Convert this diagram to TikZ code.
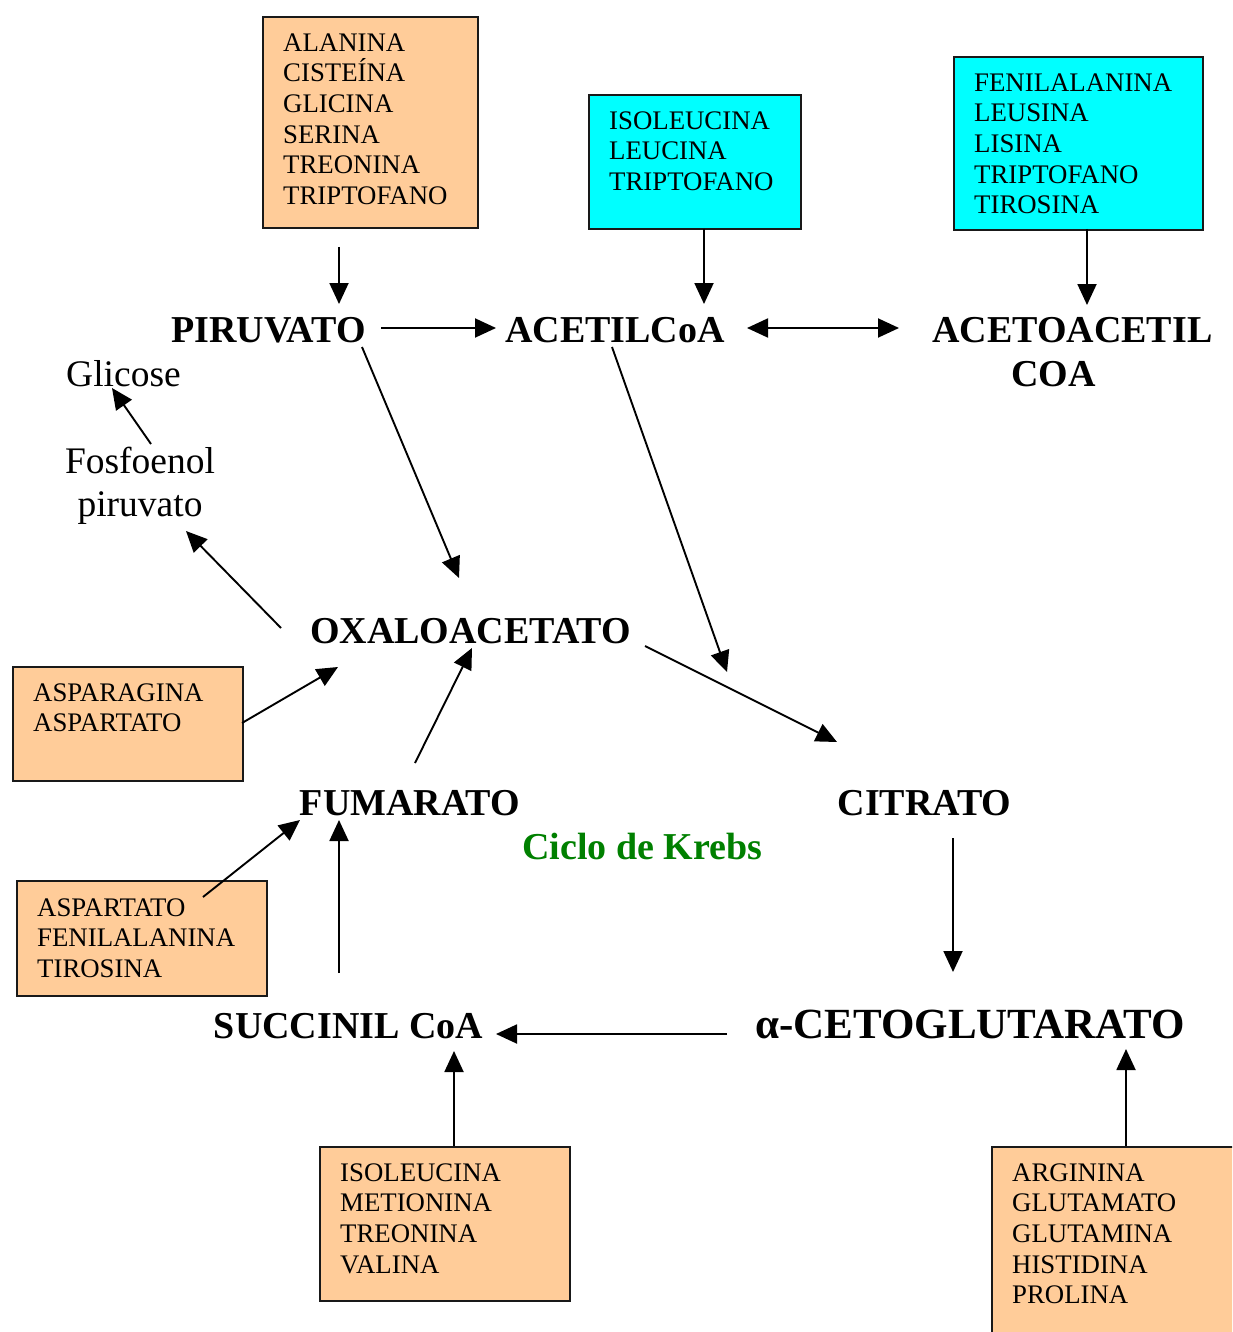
\documentclass[tikz,border=0pt]{standalone}
\usepackage{fontspec}
\setmainfont{Liberation Serif}
\usetikzlibrary{arrows.meta}
\definecolor{boxorange}{HTML}{FFCC99}
\definecolor{boxcyan}{HTML}{00FFFF}
\definecolor{krebsgreen}{HTML}{008000}
\begin{document}
\begin{tikzpicture}[x=1pt,y=-1pt,
  obox/.style={draw=black!90, line width=1.8pt, fill=boxorange, anchor=north west, inner sep=0pt},
  cbox/.style={obox, fill=boxcyan},
  btext/.style={anchor=north west, inner sep=0pt, align=left, font=\fontsize{26.8}{30.7}\selectfont},
  lbl/.style={anchor=base, inner sep=0pt, font=\fontsize{38}{44}\selectfont\bfseries},
  plainlbl/.style={inner sep=0pt, font=\fontsize{37.5}{43}\selectfont},
  arr/.style={line width=1.9pt, -{Triangle[length=21pt,width=19pt]}},
  dblarr/.style={line width=1.9pt, {Triangle[length=21pt,width=19pt]}-{Triangle[length=21pt,width=19pt]}},
]
\useasboundingbox (0,0) rectangle (1232,1332);
\clip (0,0) rectangle (1232,1332);

% boxes
\node[obox, minimum width=215pt, minimum height=211pt] (b1) at (262,16) {};
\node[cbox, minimum width=212pt, minimum height=134pt] (b2) at (588,94) {};
\node[cbox, minimum width=249pt, minimum height=173pt] (b3) at (953,56) {};
\node[obox, minimum width=230pt, minimum height=114pt] (b4) at (12,666) {};
\node[obox, minimum width=250pt, minimum height=115pt] (b5) at (16,880) {};
\node[obox, minimum width=250pt, minimum height=154pt] (b6) at (319,1146) {};
\node[obox, minimum width=260pt, minimum height=220pt] (b7) at (991,1146) {};

% box texts
\node[btext] (t1) at (283,33.2) {ALANINA\\CISTEÍNA\\GLICINA\\SERINA\\TREONINA\\TRIPTOFANO};
\node[btext] (t2) at (609,111.2) {ISOLEUCINA\\LEUCINA\\TRIPTOFANO};
\node[btext] (t3) at (974,73.2) {FENILALANINA\\LEUSINA\\LISINA\\TRIPTOFANO\\TIROSINA};
\node[btext] (t4) at (33,683.2) {ASPARAGINA\\ASPARTATO};
\node[btext] (t5) at (37,898.2) {ASPARTATO\\FENILALANINA\\TIROSINA};
\node[btext] (t6) at (340,1163.2) {ISOLEUCINA\\METIONINA\\TREONINA\\VALINA};
\node[btext] (t7) at (1012,1163.2) {ARGININA\\GLUTAMATO\\GLUTAMINA\\HISTIDINA\\PROLINA};

% labels
\node[lbl] (pir) at (268.5,342.5) {PIRUVATO};
\node[lbl] (acet) at (615,342.5) {ACETILCoA};
\node[anchor=north west, inner sep=0pt, align=left, font=\fontsize{38}{44}\selectfont\bfseries] (acac) at (932,317.5) {ACETOACETIL\\\hspace*{79pt}COA};
\node[plainlbl, anchor=base west] (gli) at (66,386) {Glicose};
\node[plainlbl, anchor=north, align=center] (pep) at (140,446.5) {Fosfoenol\\piruvato};
\node[lbl] (oxa) at (470.5,643.5) {OXALOACETATO};
\node[lbl] (fum) at (410,815.5) {FUMARATO};
\node[lbl] (cit) at (924.5,815.5) {CITRATO};
\node[lbl, text=krebsgreen] (krebs) at (642.5,859.5) {Ciclo de Krebs};
\node[lbl] (suc) at (348.5,1038.5) {SUCCINIL CoA};
\node[lbl, font=\fontsize{43}{48}\selectfont\bfseries] (akg) at (970,1038) {α-CETOGLUTARATO};

% connector end points
\coordinate (b1out) at (339,247);   \coordinate (pirin) at (339,304);
\coordinate (b2out) at (704,229);   \coordinate (acetin) at (704,304);
\coordinate (b3out) at (1087,229);  \coordinate (acacin) at (1087,305);
\coordinate (pirR) at (381,328);    \coordinate (acetL) at (496,328);
\coordinate (acetR) at (747,328);   \coordinate (acacL) at (899,328);
\coordinate (pepup) at (151,444);   \coordinate (gliin) at (112,388);
\coordinate (oxaL) at (281,628);    \coordinate (pepin) at (186,531);
\coordinate (pirD) at (362,347);    \coordinate (oxain1) at (459,578);
\coordinate (acetD) at (612,347);   \coordinate (citin1) at (727,672);
\coordinate (oxaR) at (645,646);    \coordinate (citin2) at (837,742);
\coordinate (b4out) at (242,723);   \coordinate (oxain2) at (338,667);
\coordinate (fumU) at (415,763);    \coordinate (oxain3) at (472,648);
\coordinate (b5out) at (203,897);   \coordinate (fumin1) at (300,820);
\coordinate (sucU) at (339,973);    \coordinate (fumin2) at (339,820);
\coordinate (citD) at (953,838);    \coordinate (akgin) at (953,972);
\coordinate (akgL) at (727,1034);   \coordinate (sucin1) at (496,1034);
\coordinate (b6out) at (454,1146);  \coordinate (sucin2) at (454,1051);
\coordinate (b7out) at (1126,1146); \coordinate (akgin2) at (1126,1049);

% connectors
\draw[arr] (b1out) -- (pirin);
\draw[arr] (b2out) -- (acetin);
\draw[arr] (b3out) -- (acacin);
\draw[arr] (pirR) -- (acetL);
\draw[dblarr] (acetR) -- (acacL);
\draw[arr] (pepup) -- (gliin);
\draw[arr] (oxaL) -- (pepin);
\draw[arr] (pirD) -- (oxain1);
\draw[arr] (acetD) -- (citin1);
\draw[arr] (oxaR) -- (citin2);
\draw[arr] (b4out) -- (oxain2);
\draw[arr] (fumU) -- (oxain3);
\draw[arr] (b5out) -- (fumin1);
\draw[arr] (sucU) -- (fumin2);
\draw[arr] (citD) -- (akgin);
\draw[arr] (akgL) -- (sucin1);
\draw[arr] (b6out) -- (sucin2);
\draw[arr] (b7out) -- (akgin2);
\end{tikzpicture}
\end{document}
